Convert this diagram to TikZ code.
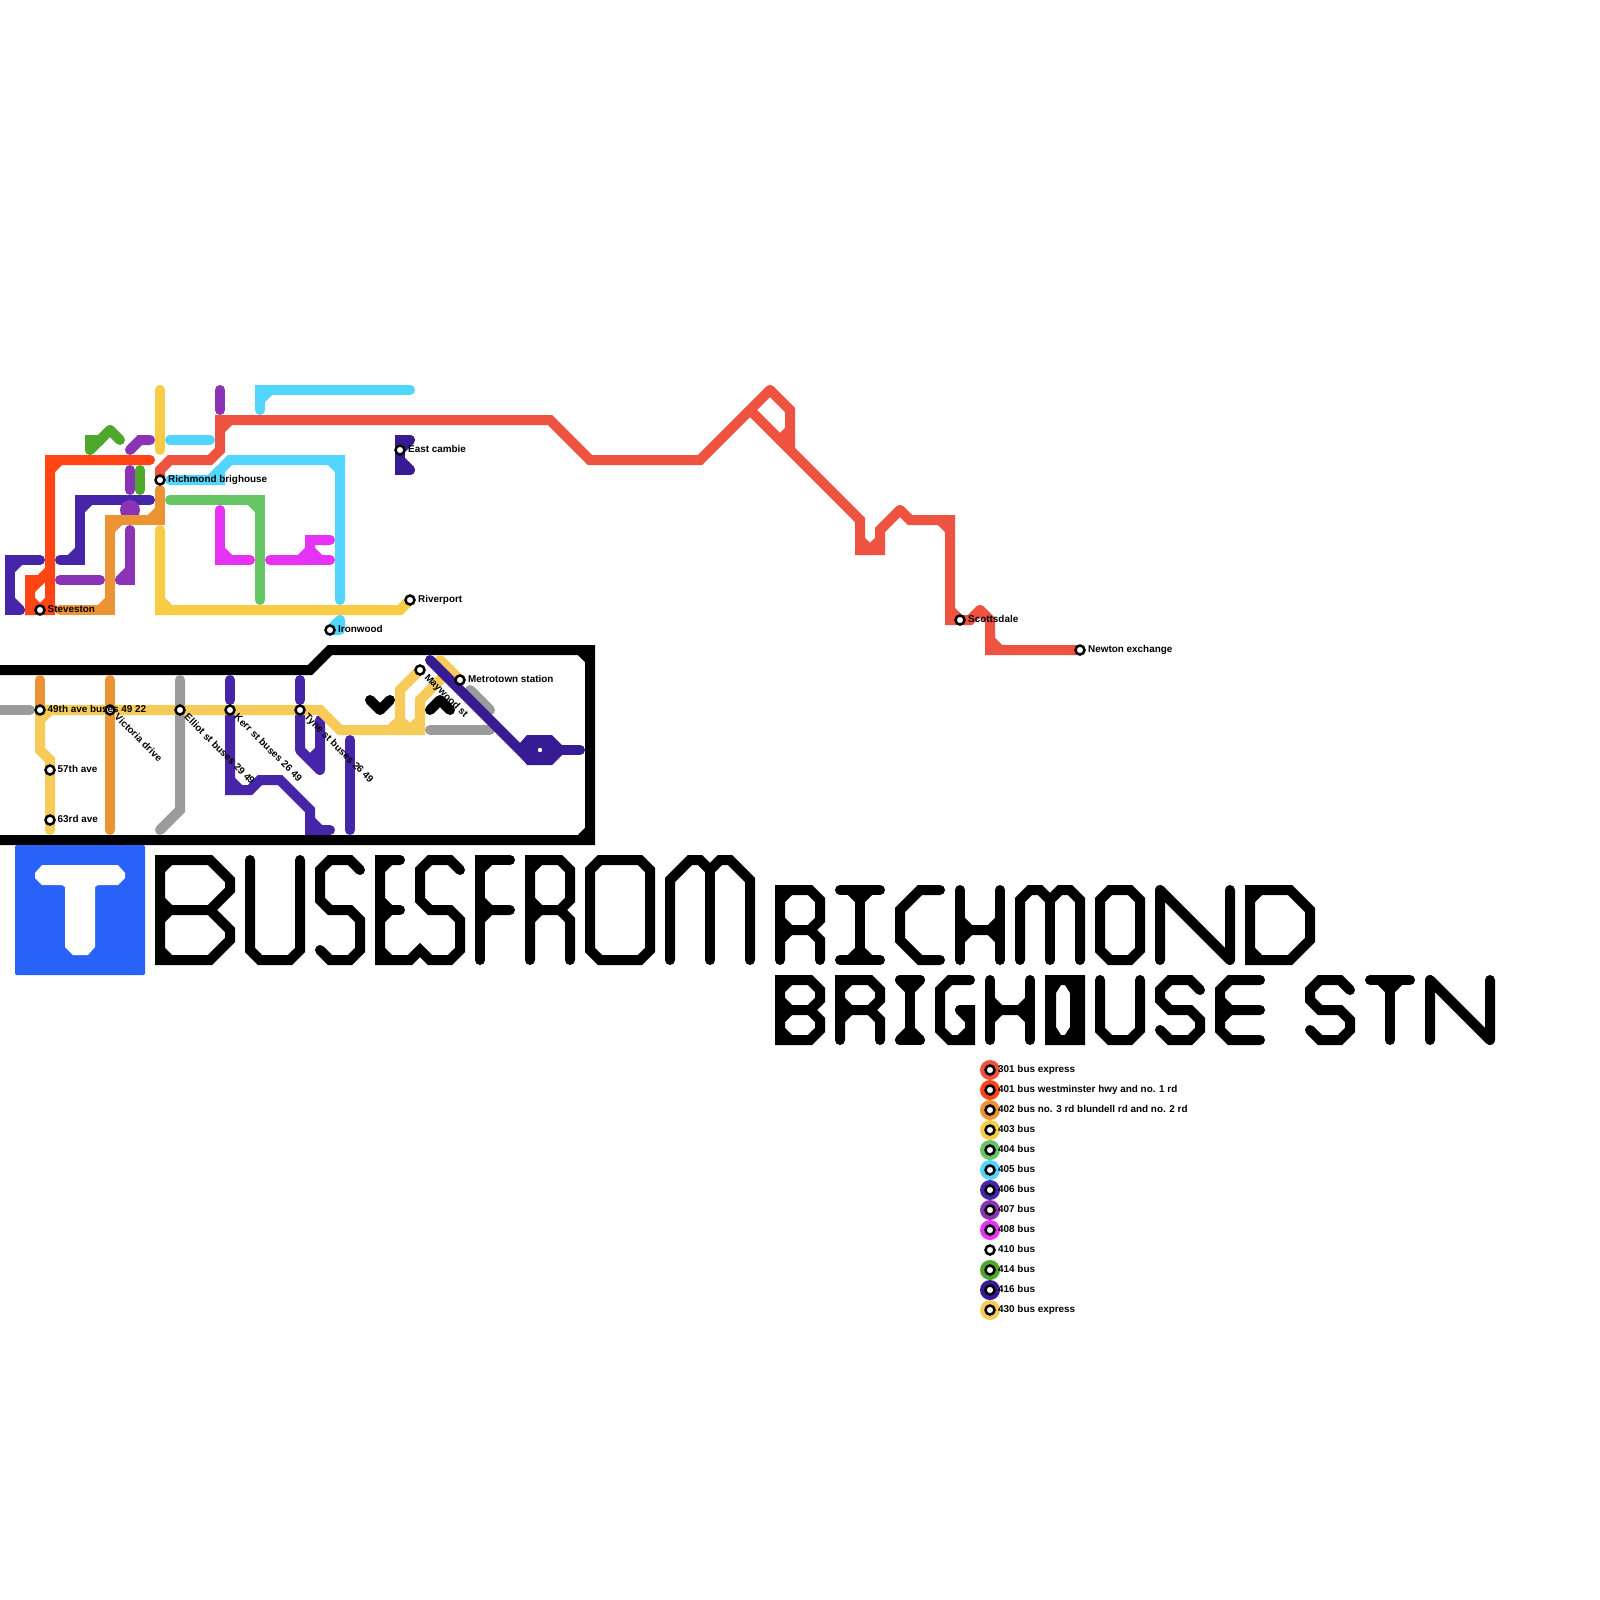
\documentclass[tikz,border=0pt]{standalone}
\usepackage{fontspec}
\setmainfont{Liberation Sans}
\definecolor{rA}{HTML}{EE5240}
\definecolor{rB}{HTML}{FF4514}
\definecolor{rC}{HTML}{EC9434}
\definecolor{rD}{HTML}{F9CC46}
\definecolor{rE}{HTML}{66C666}
\definecolor{rF}{HTML}{52D6FF}
\definecolor{rG}{HTML}{4725A8}
\definecolor{rH}{HTML}{8A33B5}
\definecolor{rI}{HTML}{E632F5}
\definecolor{rK}{HTML}{4EA82C}
\definecolor{rL}{HTML}{361B92}
\definecolor{rM}{HTML}{F7CB58}
\definecolor{rG2}{HTML}{9B9B9B}
\definecolor{tblue}{HTML}{2962F8}
\tikzset{
  route/.style={line width=10pt,line cap=round,line join=miter,miter limit=10},
  stn/.style={circle,draw=black,fill=white,line width=2.5pt,minimum size=9pt,inner sep=0pt,outer sep=0pt},
  lbl/.style={font=\fontsize{9.9}{12}\selectfont\bfseries,anchor=base west,inner sep=0pt,text=black},
  dlbl/.style={lbl,rotate=-45},
  legdisc/.style={circle,minimum size=20pt,inner sep=0pt,outer sep=0pt}
}
\newcommand{\rtmain}[2]{\draw[route,#1] #2;}
\newcommand{\rtseg}[2]{\draw[route,#1,line join=round] #2;}
\newcommand{\chm}[5]{\draw[route,#1] ({#2+10*(#4)},{#3})--({#2},{#3+10*(#5)});}
\begin{document}
\begin{tikzpicture}[x=1pt,y=-1pt]
\useasboundingbox (0,0) rectangle (1600,1600);
\fill[white] (0,0) rectangle (1600,1600);

% station positions
\coordinate (rich) at (160,480);
\coordinate (stev) at (40,610);
\coordinate (river) at (410,600);
\coordinate (iron) at (330,630);
\coordinate (east) at (400,450);
\coordinate (scot) at (960,620);
\coordinate (newt) at (1080,650);
\coordinate (ave49) at (40,710);
\coordinate (vict) at (110,710);
\coordinate (elli) at (180,710);
\coordinate (kerr) at (230,710);
\coordinate (tyne) at (300,710);
\coordinate (ave57) at (50,770);
\coordinate (ave63) at (50,820);
\coordinate (mayw) at (420,670);
\coordinate (metr) at (460,680);

% frame
\rtmain{black}{(0,670)--(310,670)--(330,650)--(590,650)--(590,840)--(0,840)}
\chm{black}{590}{650}{-1}{1}
\chm{black}{590}{840}{-1}{-1}

% 301
\rtmain{rA}{(rich)--(160,470)--(170,460)--(210,460)--(220,450)--(220,420)--(550,420)--(590,460)--(700,460)--(770,390)}
\rtmain{rA}{(770,390)--(790,410)--(790,450)--(750,410)--(860,520)--(860,550)--(880,550)--(880,530)--(900,510)}
\rtmain{rA}{(900,510)--(910,520)--(950,520)--(950,620)--(970,620)--(980,610)}
\rtmain{rA}{(980,610)--(990,620)--(990,650)--(newt)}
\rtseg{rA}{(780,440)--(790,430)}
\fill[rA] (590,460) circle (5pt);
\chm{rA}{220}{420}{1}{1}
\chm{rA}{860}{550}{1}{-1}
\chm{rA}{880}{550}{-1}{-1}
\chm{rA}{950}{520}{-1}{1}
\chm{rA}{950}{620}{1}{-1}
\chm{rA}{990}{650}{1}{-1}

% 401
\rtmain{rB}{(150,460)--(50,460)--(50,610)--(30,610)--(30,580)--(40,580)--(50,570)}
\chm{rB}{50}{460}{1}{1}
\chm{rB}{50}{610}{-1}{-1}
\chm{rB}{30}{610}{1}{-1}
\chm{rB}{30}{580}{1}{1}

% 403
\rtseg{rD}{(160,390)--(160,450)}
\rtmain{rD}{(160,530)--(160,610)--(400,610)--(river)}
\chm{rD}{160}{610}{1}{-1}

% 405
\rtmain{rF}{(260,410)--(260,390)--(410,390)}
\chm{rF}{260}{390}{1}{1}
\rtseg{rF}{(170,440)--(210,440)}
\rtmain{rF}{(170,480)--(220,480)--(220,470)--(230,460)--(340,460)--(340,600)}
\chm{rF}{220}{480}{-1}{-1}
\chm{rF}{340}{460}{-1}{1}
\rtseg{rF}{(iron)--(340,620)--(340,630)--(iron)}

% 414
\rtmain{rK}{(90,450)--(90,440)--(100,440)--(110,430)}
\rtseg{rK}{(110,430)--(120,440)}
\rtseg{rK}{(90,450)--(100,440)}
\rtseg{rK}{(140,470)--(140,490)}

% 407 (top)
\rtseg{rH}{(220,390)--(220,410)}
\rtseg{rH}{(130,470)--(130,490)}
\rtmain{rH}{(130,450)--(140,440)--(150,440)}

% 406
\rtmain{rG}{(40,560)--(10,560)--(10,610)--(20,610)}
\rtseg{rG}{(20,610)--(10,600)}
\chm{rG}{10}{560}{1}{1}
\rtmain{rG}{(60,560)--(80,560)--(80,500)--(150,500)}
\chm{rG}{80}{560}{-1}{-1}
\chm{rG}{80}{500}{1}{1}

% 407 (lower)
\fill[rH] (130,510) circle (10pt);
\rtseg{rH}{(60,580)--(100,580)}
\rtmain{rH}{(120,580)--(130,580)--(130,530)}
\chm{rH}{130}{580}{-1}{-1}

% 402
\rtmain{rC}{(160,490)--(160,520)--(110,520)--(110,610)--(60,610)}
\chm{rC}{160}{520}{-1}{-1}
\chm{rC}{110}{520}{1}{1}
\chm{rC}{110}{610}{-1}{-1}

% 404
\rtmain{rE}{(170,500)--(260,500)--(260,600)}
\chm{rE}{260}{500}{-1}{1}

% 408
\rtmain{rI}{(220,510)--(220,560)--(250,560)}
\chm{rI}{220}{560}{1}{-1}
\rtmain{rI}{(270,560)--(300,560)--(310,550)--(310,540)--(330,540)}
\rtseg{rI}{(300,560)--(330,560)}
\rtseg{rI}{(310,550)--(320,560)}

% 416
\rtmain{rL}{(410,440)--(400,440)--(400,470)--(410,470)}
\rtseg{rL}{(410,470)--(400,460)}
\chm{rL}{400}{440}{1}{1}

% lower box
\rtseg{rG2}{(0,710)--(30,710)}
\rtmain{rG2}{(180,680)--(180,810)--(160,830)}
\rtseg{rG2}{(430,730)--(490,730)}
\rtseg{rG2}{(470,690)--(490,710)}
\rtseg{rC}{(40,680)--(ave49)}
\rtseg{rC}{(110,680)--(110,830)}
\rtseg{rG}{(230,680)--(230,700)}
\rtseg{rG}{(300,680)--(300,700)}
\rtmain{rG}{(kerr)--(230,790)--(250,790)--(260,780)--(280,780)--(310,810)--(310,830)--(330,830)}
\chm{rG}{230}{790}{1}{-1}
\chm{rG}{310}{830}{1}{-1}
\rtseg{rG}{(tyne)--(300,750)--(320,770)--(320,720)}
\rtseg{rG}{(310,760)--(320,750)}
\rtseg{rG}{(350,740)--(350,830)}
\rtmain{rM}{(ave49)--(320,710)--(340,730)--(390,730)--(400,720)--(400,690)--(mayw)}
\rtmain{rM}{(390,730)--(420,730)--(420,700)--(450,670)}
\chm{rM}{420}{730}{-1}{-1}
\rtseg{rM}{(400,720)--(410,730)}
\rtseg{rM}{(440,660)--(metr)}
\rtmain{rM}{(ave49)--(40,750)--(50,760)--(50,830)}
\chm{rM}{40}{710}{1}{1}
\rtseg{black}{(370,700)--(380,710)--(390,700)}
\rtseg{black}{(430,710)--(440,700)--(450,710)}
\rtseg{rL}{(430,660)--(530,760)}
\fill[rL] (520,743)--(527,735)--(552,735)--(562,745)--(562,755)--(552,765)--(527,765)--(515,750)--cycle;
\rtseg{rL}{(560,750)--(580,750)}
\fill[white] (540,750) circle (2.2pt);

% logo
\fill[tblue,rounded corners=1.5pt] (15,845) rectangle (145,975);
\fill[white] (42,865)--(118,865)--(125,873)--(125,878)--(118,885)--(98,885)--(95,887)--(95,947)--(88,955)--(73,955)--(65,947)--(65,887)--(62,885)--(42,885)--(35,878)--(35,873)--cycle;

% title: BUSES FROM
\rtmain{black}{(160,910)--(160,860)--(210,860)--(230,880)--(230,890)--(210,910)--(160,910)--(160,960)--(210,960)--(230,940)--(230,930)--(210,910)}
\chm{black}{160}{860}{1}{1}
\chm{black}{160}{910}{1}{-1}
\chm{black}{160}{910}{1}{1}
\chm{black}{160}{960}{1}{-1}
\rtmain{black}{(250,860)--(250,950)--(260,960)--(290,960)--(300,950)--(300,860)}
\rtmain{black}{(360,870)--(350,860)--(330,860)--(320,870)--(320,900)--(330,910)--(350,910)--(360,920)--(360,950)--(350,960)--(330,960)--(320,950)}
\rtmain{black}{(400,860)--(380,860)--(380,960)--(410,960)--(420,950)--(430,960)--(450,960)--(460,950)--(460,920)--(450,910)--(430,910)--(420,900)--(420,870)--(430,860)--(450,860)--(460,870)}
\chm{black}{380}{860}{1}{1}
\chm{black}{380}{960}{1}{-1}
\rtseg{black}{(380,900)--(390,910)--(380,920)}
\rtseg{black}{(380,910)--(400,910)}
\rtmain{black}{(510,860)--(480,860)--(480,960)}
\chm{black}{480}{860}{1}{1}
\rtseg{black}{(510,910)--(490,910)--(480,900)}
\rtseg{black}{(490,910)--(480,920)}
\rtmain{black}{(530,960)--(530,860)--(560,860)--(570,870)--(570,900)--(560,910)--(530,910)}
\chm{black}{530}{860}{1}{1}
\chm{black}{530}{910}{1}{-1}
\chm{black}{530}{910}{1}{1}
\rtmain{black}{(560,910)--(570,920)--(570,960)}
\rtmain{black}{(590,870)--(600,860)--(640,860)--(650,870)--(650,950)--(640,960)--(600,960)--(590,950)--cycle}
\rtmain{black}{(670,960)--(670,880)--(690,860)--(700,860)--(710,870)--(720,860)--(730,860)--(750,880)--(750,960)}
\rtseg{black}{(710,870)--(710,960)}

% title: RICHMOND
\rtmain{black}{(780,960)--(780,890)--(810,890)--(820,900)--(820,920)--(810,930)--(780,930)}
\chm{black}{780}{890}{1}{1}
\chm{black}{780}{930}{1}{-1}
\chm{black}{780}{930}{1}{1}
\rtmain{black}{(810,930)--(820,940)--(820,960)}
\rtseg{black}{(840,890)--(880,890)}
\rtseg{black}{(840,960)--(880,960)}
\rtseg{black}{(860,890)--(860,960)}
\rtseg{black}{(850,890)--(860,900)--(870,890)}
\rtseg{black}{(850,960)--(860,950)--(870,960)}
\rtmain{black}{(940,890)--(920,890)--(900,910)--(900,940)--(920,960)--(940,960)}
\rtseg{black}{(960,890)--(960,960)}
\rtseg{black}{(1000,890)--(1000,960)}
\rtseg{black}{(960,920)--(970,930)--(990,930)--(1000,920)}
\rtseg{black}{(960,940)--(970,930)}
\rtseg{black}{(990,930)--(1000,940)}
\rtmain{black}{(1020,960)--(1020,900)--(1030,890)--(1040,890)--(1050,900)--(1060,890)--(1070,890)--(1080,900)--(1080,960)}
\rtseg{black}{(1050,900)--(1050,960)}
\rtmain{black}{(1100,900)--(1110,890)--(1130,890)--(1140,900)--(1140,950)--(1130,960)--(1110,960)--(1100,950)--cycle}
\rtseg{black}{(1160,960)--(1160,890)--(1230,960)--(1230,890)}
\rtmain{black}{(1250,890)--(1290,890)--(1310,910)--(1310,940)--(1290,960)--(1250,960)--cycle}
\chm{black}{1250}{890}{1}{1}
\chm{black}{1250}{960}{1}{-1}

% title: BRIGHOUSE
\rtmain{black}{(780,1010)--(780,980)--(810,980)--(820,990)--(820,1000)--(810,1010)--(780,1010)--(780,1040)--(810,1040)--(820,1030)--(820,1020)--(810,1010)}
\chm{black}{780}{980}{1}{1}
\chm{black}{780}{1010}{1}{-1}
\chm{black}{780}{1010}{1}{1}
\chm{black}{780}{1040}{1}{-1}
\rtmain{black}{(840,1040)--(840,980)--(870,980)--(880,990)--(880,1000)--(870,1010)--(840,1010)}
\chm{black}{840}{980}{1}{1}
\chm{black}{840}{1010}{1}{-1}
\chm{black}{840}{1010}{1}{1}
\rtmain{black}{(870,1010)--(880,1020)--(880,1040)}
\rtseg{black}{(900,980)--(920,980)}
\rtseg{black}{(900,1040)--(920,1040)}
\rtseg{black}{(910,980)--(910,1040)}
\rtseg{black}{(900,980)--(910,990)--(920,980)}
\rtseg{black}{(900,1040)--(910,1030)--(920,1040)}
\rtmain{black}{(970,980)--(950,980)--(940,990)--(940,1030)--(950,1040)--(970,1040)--(970,1010)--(960,1010)}
\chm{black}{970}{1040}{-1}{-1}
\rtseg{black}{(960,1010)--(970,1020)}
\rtseg{black}{(990,980)--(990,1040)}
\rtseg{black}{(1030,980)--(1030,1040)}
\rtseg{black}{(990,1000)--(1000,1010)--(1020,1010)--(1030,1000)}
\rtseg{black}{(990,1020)--(1000,1010)}
\rtseg{black}{(1020,1010)--(1030,1020)}
\fill[black,even odd rule] (1045,975) rectangle (1085,1045)
  (1061,985)--(1065,985)--(1070,993)--(1070,1027)--(1065,1035)--(1061,1035)--(1056,1027)--(1056,993)--cycle;
\rtmain{black}{(1100,980)--(1100,1030)--(1110,1040)--(1130,1040)--(1140,1030)--(1140,980)}
\rtmain{black}{(1200,990)--(1190,980)--(1170,980)--(1160,990)--(1160,1000)--(1170,1010)--(1190,1010)--(1200,1020)--(1200,1030)--(1190,1040)--(1170,1040)--(1160,1030)}
\rtmain{black}{(1260,980)--(1230,980)--(1220,990)--(1220,1030)--(1230,1040)--(1260,1040)}
\rtseg{black}{(1220,1000)--(1230,1010)--(1260,1010)}
\rtseg{black}{(1220,1020)--(1230,1010)}
% title: STN
\rtmain{black}{(1350,990)--(1340,980)--(1320,980)--(1310,990)--(1310,1000)--(1320,1010)--(1340,1010)--(1350,1020)--(1350,1030)--(1340,1040)--(1320,1040)--(1310,1030)}
\rtseg{black}{(1370,980)--(1410,980)}
\rtseg{black}{(1390,980)--(1390,1040)}
\rtseg{black}{(1380,980)--(1390,990)--(1400,980)}
\rtseg{black}{(1430,1040)--(1430,980)--(1490,1040)--(1490,980)}

% stations
\foreach \n in {rich,stev,river,iron,east,scot,newt,ave49,vict,elli,kerr,tyne,ave57,ave63,mayw,metr}
  \node[stn] (st-\n) at (\n) {};

% station labels
\node[lbl] (l-rich) at (168,482.5) {Richmond brighouse};
\node[lbl] (l-stev) at (47.5,612.5) {Steveston};
\node[lbl] (l-river) at (418,602.5) {Riverport};
\node[lbl] (l-iron) at (338,632.5) {Ironwood};
\node[lbl] (l-east) at (408,452.5) {East cambie};
\node[lbl] (l-scot) at (968,622.5) {Scottsdale};
\node[lbl] (l-newt) at (1088,652.5) {Newton exchange};
\node[lbl] (l-ave49) at (47.5,712.5) {49th ave buses 49 22};
\node[lbl] (l-ave57) at (57.5,772.5) {57th ave};
\node[lbl] (l-ave63) at (57.5,822.5) {63rd ave};
\node[lbl] (l-metr) at (468,682.5) {Metrotown station};
\node[dlbl] (l-vict) at (113.8,717.8) {Victoria drive};
\node[dlbl] (l-elli) at (183.8,717.8) {Elliot st buses 29 49};
\node[dlbl] (l-kerr) at (233.8,717.8) {Kerr st buses 26 49};
\node[dlbl] (l-tyne) at (303.8,717.8) {Tyne st buses 26 49};
\node[dlbl] (l-mayw) at (424,678) {Maywood st};

% legend
\foreach \c/\t [count=\i from 0] in {
  rA/301 bus express,
  rB/401 bus westminster hwy and no. 1 rd,
  rC/402 bus no. 3 rd blundell rd and no. 2 rd,
  rD/403 bus,
  rE/404 bus,
  rF/405 bus,
  rG/406 bus,
  rH/407 bus,
  rI/408 bus,
  white/410 bus,
  rK/414 bus,
  rL/416 bus,
  rM/430 bus express}
{
  \node[legdisc,fill=\c] (ld-\i) at (990,1070+20*\i) {};
  \node[stn] (lm-\i) at (ld-\i.center) {};
  \node[lbl] (lt-\i) at (998,1072.5+20*\i) {\t};
}
\end{tikzpicture}
\end{document}
